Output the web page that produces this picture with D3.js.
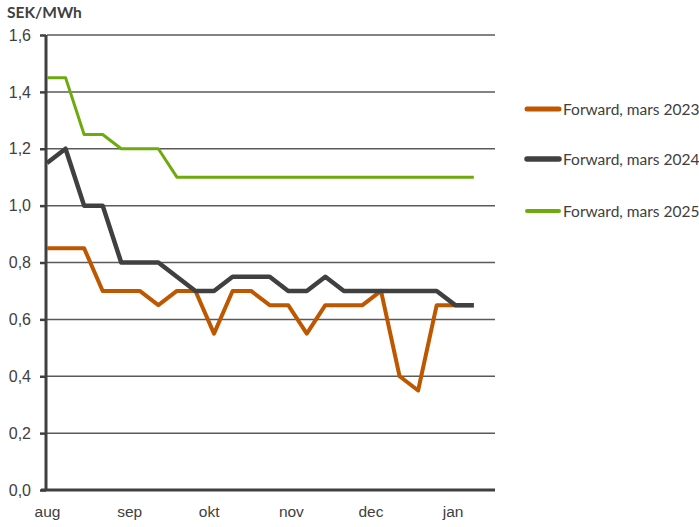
<!DOCTYPE html>
<html><head><meta charset="utf-8">
<script src="https://cdn.jsdelivr.net/npm/d3@7"></script>
<style>body{margin:0;background:#fff;}svg{display:block;font-family:Lato,"Open Sans",sans-serif;}</style>
</head><body><svg id="c" width="699" height="527"></svg>
<script>
const weeks = ["2022-08-01","2022-08-08","2022-08-15","2022-08-22","2022-08-29","2022-09-05","2022-09-12","2022-09-19","2022-09-26","2022-10-03","2022-10-10","2022-10-17","2022-10-24","2022-10-31","2022-11-07","2022-11-14","2022-11-21","2022-11-28","2022-12-05","2022-12-12","2022-12-19","2022-12-26","2023-01-02","2023-01-09"];
const mars2023 = [0.85,0.85,0.85,0.70,0.70,0.70,0.65,0.70,0.70,0.55,0.70,0.70,0.65,0.65,0.55,0.65,0.65,0.65,0.70,0.40,0.35,0.65,0.65,0.65];
const mars2024 = [1.15,1.20,1.00,1.00,0.80,0.80,0.80,0.75,0.70,0.70,0.75,0.75,0.75,0.70,0.70,0.75,0.70,0.70,0.70,0.70,0.70,0.70,0.65,0.65];
const mars2025 = [1.45,1.45,1.25,1.25,1.20,1.20,1.20,1.10,1.10,1.10,1.10,1.10,1.10,1.10,1.10,1.10,1.10,1.10,1.10,1.10,1.10,1.10,1.10,1.10];
const seriesNames = ["Forward, mars 2023","Forward, mars 2024","Forward, mars 2025"];
const monthTicks = ["2022-08-01","2022-09-01","2022-10-01","2022-11-01","2022-12-01","2023-01-01"];
const monthLabels = ["aug","sep","okt","nov","dec","jan"];
const yTicks = [0,0.2,0.4,0.6,0.8,1.0,1.2,1.4,1.6];
const unit = "SEK/MWh";

const parse = d3.timeParse("%Y-%m-%d");
const dates = weeks.map(parse);
const svg = d3.select("#c");
const L=47, R=495, T=35, B=490;
const x = d3.scaleTime().domain([parse("2022-08-01"), d3.timeDay.offset(parse("2022-08-01"),169)]).range([L,R]);
const y = d3.scaleLinear().domain([0,1.6]).range([B,T]);
const txt="#404040";

// grid
svg.append("g").selectAll("line").data(yTicks.filter(v=>v>0)).join("line")
 .attr("x1",L).attr("x2",R).attr("y1",d=>y(d)).attr("y2",d=>y(d))
 .attr("stroke","#5a5a5a").attr("stroke-width",1.5);

// y axis
const ya = svg.append("g").attr("transform",`translate(${L-1},0)`)
 .call(d3.axisLeft(y).tickValues(yTicks).tickSize(6).tickPadding(9).tickFormat(d=>d3.format(".1f")(d).replace(".",",")));
ya.select(".domain").attr("stroke","#404040").attr("stroke-width",3).attr("d",`M0,${T}V${B}`);
ya.selectAll(".tick line").attr("stroke","#404040").attr("stroke-width",2.5);
ya.selectAll("text").attr("fill",txt).style("font-size","16px");

// x axis
const xa = svg.append("g").attr("transform",`translate(0,${B})`)
 .call(d3.axisBottom(x).tickValues(monthTicks.map(parse)).tickSize(0).tickPadding(16)
   .tickFormat((d,i)=>monthLabels[i]));
xa.select(".domain").attr("stroke","#404040").attr("stroke-width",3).attr("d",`M${L-6},0H${R}`);
xa.selectAll("text").attr("fill",txt).style("font-size","15.5px").attr("dy","0.71em");

// title
svg.append("text").attr("x",7).attr("y",18).text(unit).attr("fill",txt)
 .style("font-size","15.5px").style("font-weight","bold");

const series=[
 {name:seriesNames[0],vals:mars2023,color:"#BE5700",w:4},
 {name:seriesNames[1],vals:mars2024,color:"#404040",w:4.5},
 {name:seriesNames[2],vals:mars2025,color:"#6EAA0E",w:3}
];
const line = d3.line().x((d,i)=>x(dates[i])).y(d=>y(d));
series.forEach(s=>{
 svg.append("path").datum(s.vals).attr("d",line).attr("fill","none")
  .attr("stroke",s.color).attr("stroke-width",s.w).attr("stroke-linejoin","round");
});

// legend
const ly=[109,159,211];
series.forEach((s,i)=>{
 svg.append("line").attr("x1",527).attr("x2",559).attr("y1",ly[i]).attr("y2",ly[i])
  .attr("stroke",s.color).attr("stroke-width",s.w+1).attr("stroke-linecap","round");
 svg.append("text").attr("x",563).attr("y",ly[i]+5.5).text(s.name).attr("fill",txt).style("font-size","15.5px");
});
</script></body></html>
